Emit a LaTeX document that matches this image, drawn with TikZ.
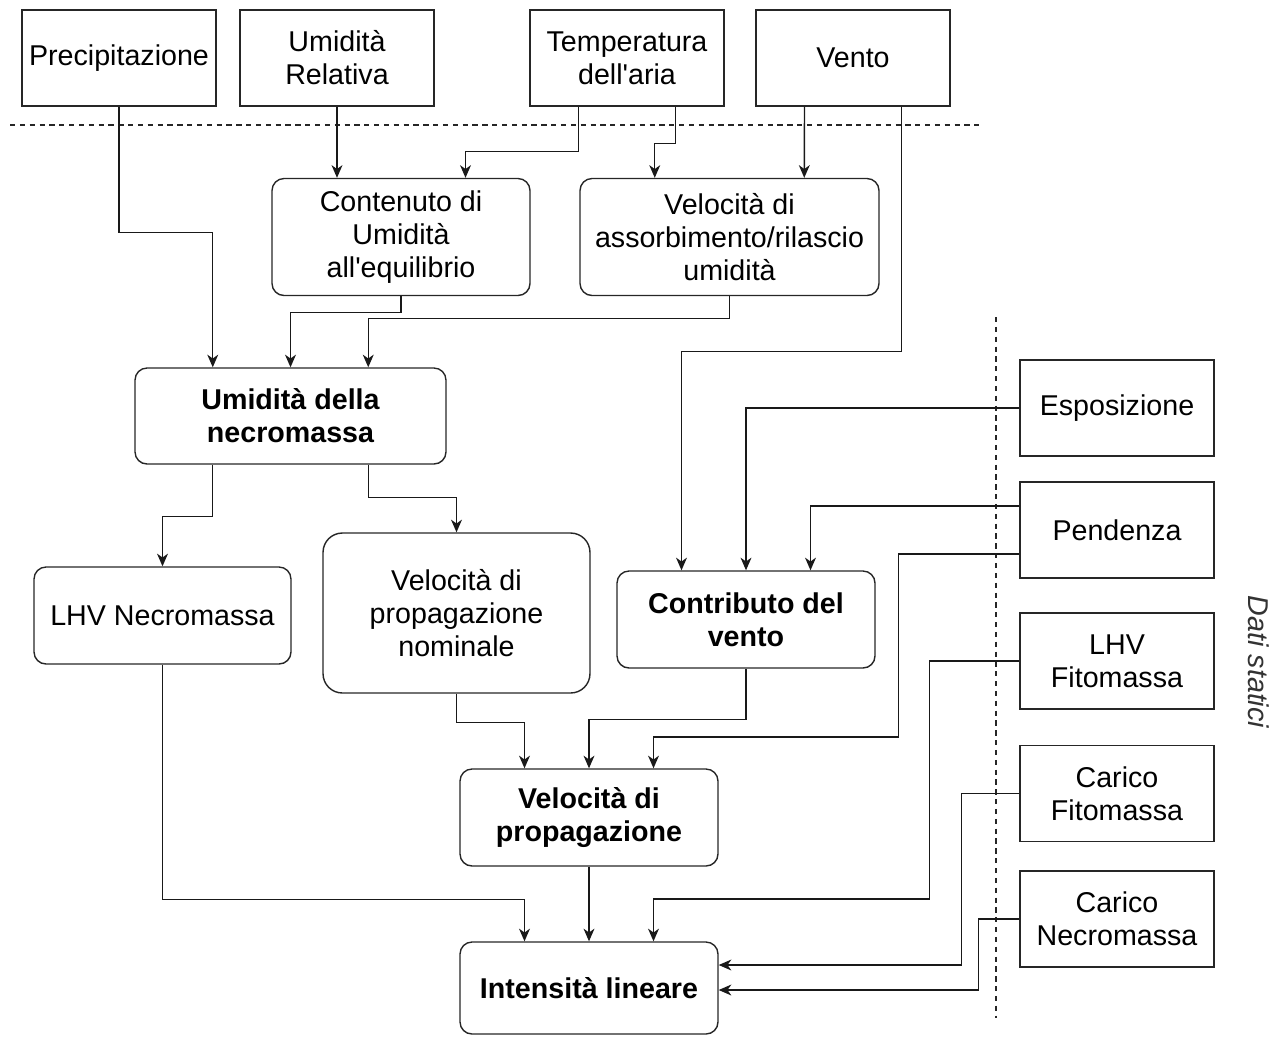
\documentclass[tikz,border=0pt]{standalone}
\usepackage{fontspec}
\setmainfont{Liberation Sans}
\usetikzlibrary{
	arrows.meta,
	calc
}

\begin{document}
\begin{tikzpicture}[x=0.02cm, y=-0.02cm,
    every node/.style={font=\fontsize{16.3}{18.8}\selectfont, align=center, inner sep=0pt},
    databox/.style={draw=black!85, line width=0.8pt, minimum width=3.88cm, minimum height=1.92cm},
    procbox/.style={draw=black!85, line width=0.8pt, rounded corners=6.8pt},
    keybox/.style={procbox, font=\fontsize{16.3}{18.8}\selectfont\bfseries},
    arr/.style={draw=black!90, line width=0.8pt, -{Stealth[length=7.2pt, width=6.2pt, inset=2.2pt]}},
    sep/.style={draw=black!85, line width=0.7pt, dash pattern=on 3pt off 2.6pt}
]
    \useasboundingbox (0,0) rectangle (1274,1036);
    % Input data
    \node[databox] (prec)  at (119,58)  {Precipitazione};
    \node[databox] (umrel) at (337,58)  {Umidità\\Relativa};
    \node[databox] (temp)  at (627,58)  {Temperatura\\dell\textquotesingle aria};
    \node[databox] (vento) at (853,58)  {Vento};
    % Static data
    \node[databox] (expo)  at (1117,408)   {Esposizione};
    \node[databox] (pend)  at (1117,530)   {Pendenza};
    \node[databox] (lhvf)  at (1117,661)   {LHV\\Fitomassa};
    \node[databox] (carf)  at (1117,793.5) {Carico\\Fitomassa};
    \node[databox] (carn)  at (1117,919)   {Carico\\Necromassa};
    % Model blocks
    \node[procbox, minimum width=5.16cm, minimum height=2.34cm] (cont)    at (401,237)     {Contenuto di\\Umidità\\all\textquotesingle equilibrio};
    \node[procbox, minimum width=5.98cm, minimum height=2.34cm] (velass)  at (729.5,237)   {Velocità di\\assorbimento/rilascio\\umidità};
    \node[keybox,  minimum width=6.22cm, minimum height=1.92cm] (umnec)   at (290.5,416)   {Umidità della\\necromassa};
    \node[procbox, minimum width=5.14cm, minimum height=1.94cm] (lhvn)    at (162.5,615.5) {LHV Necromassa};
    \node[procbox, minimum width=5.34cm, minimum height=3.2cm, rounded corners=11pt] (velnom) at (456.5,613) {Velocità di\\propagazione\\nominale};
    \node[keybox,  minimum width=5.16cm, minimum height=1.94cm] (contrib) at (746,619.5)   {Contributo del\\vento};
    \node[keybox,  minimum width=5.16cm, minimum height=1.94cm] (velprop) at (589,817.5)   {Velocità di\\propagazione};
    \node[keybox,  minimum width=5.16cm, minimum height=1.84cm] (intens)  at (589,988)     {Intensità lineare};
    % Separators
    \draw[sep] (10,125) -- (980,125);
    \draw[sep] (996,317) -- (996,1018);
    \node[rotate=-90, font=\fontsize{16.3}{18.8}\selectfont\itshape, text=black!80] (dati) at (1259,662) {Dati statici};
    % Moisture
    \draw[arr] (prec.south) -- ++(0,126) -| ($(umnec.north)+(-77.75,0)$);
    \draw[arr] (umrel.south) -- (umrel.south |- cont.north);
    \draw[arr] ($(temp.south)+(-48.5,0)$) -- ++(0,45) -| ($(cont.north)+(64.5,0)$);
    \draw[arr] ($(temp.south)+(48.5,0)$)  -- ++(0,37) -| ($(velass.north)+(-74.75,0)$);
    \draw[arr] ($(vento.south)+(-48.5,0)$) -- ($(velass.north)+(74.75,0)$);
    \draw[arr] (cont.south)   -- ++(0,16) -| (umnec.north);
    \draw[arr] (velass.south) -- ++(0,22) -| ($(umnec.north)+(77.75,0)$);
    \draw[arr] ($(umnec.south)+(-77.75,0)$) -- ++(0,52) -| (lhvn.north);
    \draw[arr] ($(umnec.south)+(77.75,0)$)  -- ++(0,33) -| (velnom.north);
    % Wind and slope
    \draw[arr] ($(vento.south)+(48.5,0)$) -- ++(0,245) -| ($(contrib.north)+(-64.5,0)$);
    \draw[arr] (expo.west) -| (contrib.north);
    \draw[arr] ($(pend.west)+(0,-24)$) -| ($(contrib.north)+(64.5,0)$);
    % Propagation
    \draw[arr] ($(pend.west)+(0,24)$) -| ++(-121,183) -| ($(velprop.north)+(64.5,0)$);
    \draw[arr] (velnom.south)  -- ++(0,29) -| ($(velprop.north)+(-64.5,0)$);
    \draw[arr] (contrib.south) -- ++(0,51) -| (velprop.north);
    % Intensity
    \draw[arr] (lhvn.south) -- ++(0,235) -| ($(intens.north)+(-64.5,0)$);
    \draw[arr] (velprop.south) -- (intens.north);
    \draw[arr] (lhvf.west) -| ++(-90,238) -| ($(intens.north)+(64.5,0)$);
    \draw[arr] (carf.west) -- ++(-58,0) |- ($(intens.east)+(0,-23)$);
    \draw[arr] (carn.west) -- ++(-41,0) |- ($(intens.east)+(0,2)$);
\end{tikzpicture}
\end{document}
